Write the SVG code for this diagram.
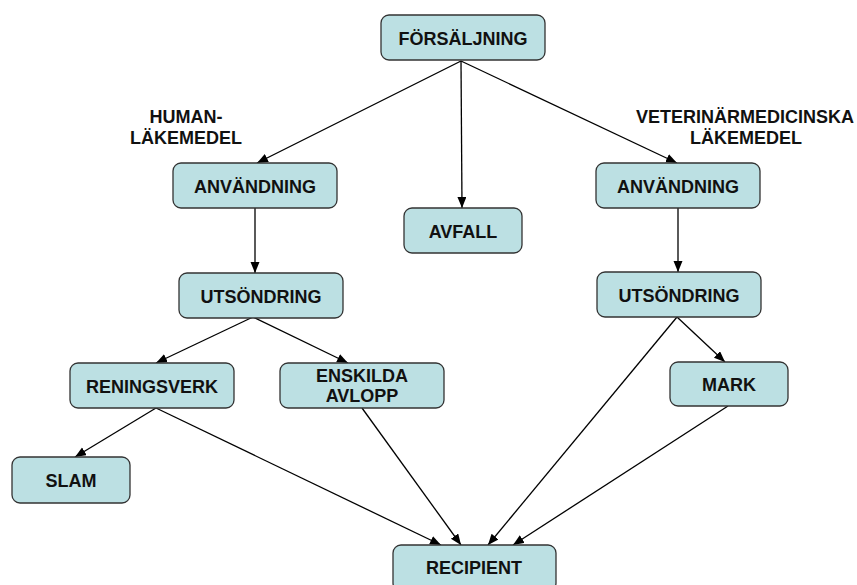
<svg xmlns="http://www.w3.org/2000/svg" width="857" height="585" viewBox="0 0 857 585">
<style>
.box{fill:#bce0e3;stroke:#333;stroke-width:1.3}
.t{font-family:"Liberation Sans",Arial,sans-serif;font-weight:bold;font-size:18px;fill:#111;text-anchor:middle}
.c line{stroke:#000;stroke-width:1.3;marker-end:url(#ah)}
</style>
<defs>
<marker id="ah" markerUnits="userSpaceOnUse" markerWidth="12" markerHeight="10" refX="11" refY="4.5" orient="auto">
<path d="M0,0 L11,4.5 L0,9 z" fill="#000"/>
</marker>
</defs>
<rect width="857" height="585" fill="#fff"/>
<g id="label-human"><text class="t" x="186" y="123">HUMAN-</text><text class="t" x="186" y="144">LÄKEMEDEL</text></g>
<g id="label-vet"><text class="t" x="745" y="123">VETERINÄRMEDICINSKA</text><text class="t" x="746" y="144">LÄKEMEDEL</text></g>
<g class="c" id="connectors">
<line x1="461" y1="61" x2="257" y2="163"/>
<line x1="461" y1="61" x2="462" y2="208"/>
<line x1="461" y1="61" x2="677" y2="163"/>
<line x1="255" y1="208" x2="255" y2="273"/>
<line x1="678" y1="208" x2="678" y2="272"/>
<line x1="253" y1="317" x2="156" y2="363"/>
<line x1="253" y1="317" x2="348" y2="363"/>
<line x1="156" y1="408" x2="75" y2="457"/>
<line x1="156" y1="408" x2="441" y2="545"/>
<line x1="362" y1="408" x2="461" y2="545"/>
<line x1="677" y1="317" x2="488" y2="545"/>
<line x1="677" y1="317" x2="725" y2="362"/>
<line x1="728" y1="406" x2="513" y2="545"/>
</g>
<g id="forsaljning"><rect class="box" x="381" y="15" width="164" height="45" rx="8"/><text class="t" x="463" y="45">FÖRSÄLJNING</text></g>
<g id="anvandning-h"><rect class="box" x="173" y="163" width="164" height="45" rx="8"/><text class="t" x="255" y="193">ANVÄNDNING</text></g>
<g id="avfall"><rect class="box" x="404" y="208" width="118" height="45" rx="8"/><text class="t" x="463" y="238">AVFALL</text></g>
<g id="anvandning-v"><rect class="box" x="596" y="163" width="164" height="45" rx="8"/><text class="t" x="678" y="193">ANVÄNDNING</text></g>
<g id="utsondring-h"><rect class="box" x="179" y="273" width="164" height="45" rx="8"/><text class="t" x="261" y="303">UTSÖNDRING</text></g>
<g id="utsondring-v"><rect class="box" x="597" y="272" width="164" height="45" rx="8"/><text class="t" x="679" y="302">UTSÖNDRING</text></g>
<g id="reningsverk"><rect class="box" x="70" y="363" width="164" height="45" rx="8"/><text class="t" x="152" y="393">RENINGSVERK</text></g>
<g id="enskilda"><rect class="box" x="280" y="363" width="164" height="45" rx="8"/><text class="t" x="362" y="382">ENSKILDA</text><text class="t" x="362" y="402">AVLOPP</text></g>
<g id="mark"><rect class="box" x="670" y="362" width="118" height="44" rx="8"/><text class="t" x="729" y="391">MARK</text></g>
<g id="slam"><rect class="box" x="12" y="457" width="118" height="46" rx="8"/><text class="t" x="71" y="487">SLAM</text></g>
<g id="recipient"><rect class="box" x="393" y="545" width="163" height="46" rx="8"/><text class="t" x="474" y="574">RECIPIENT</text></g>
</svg>
